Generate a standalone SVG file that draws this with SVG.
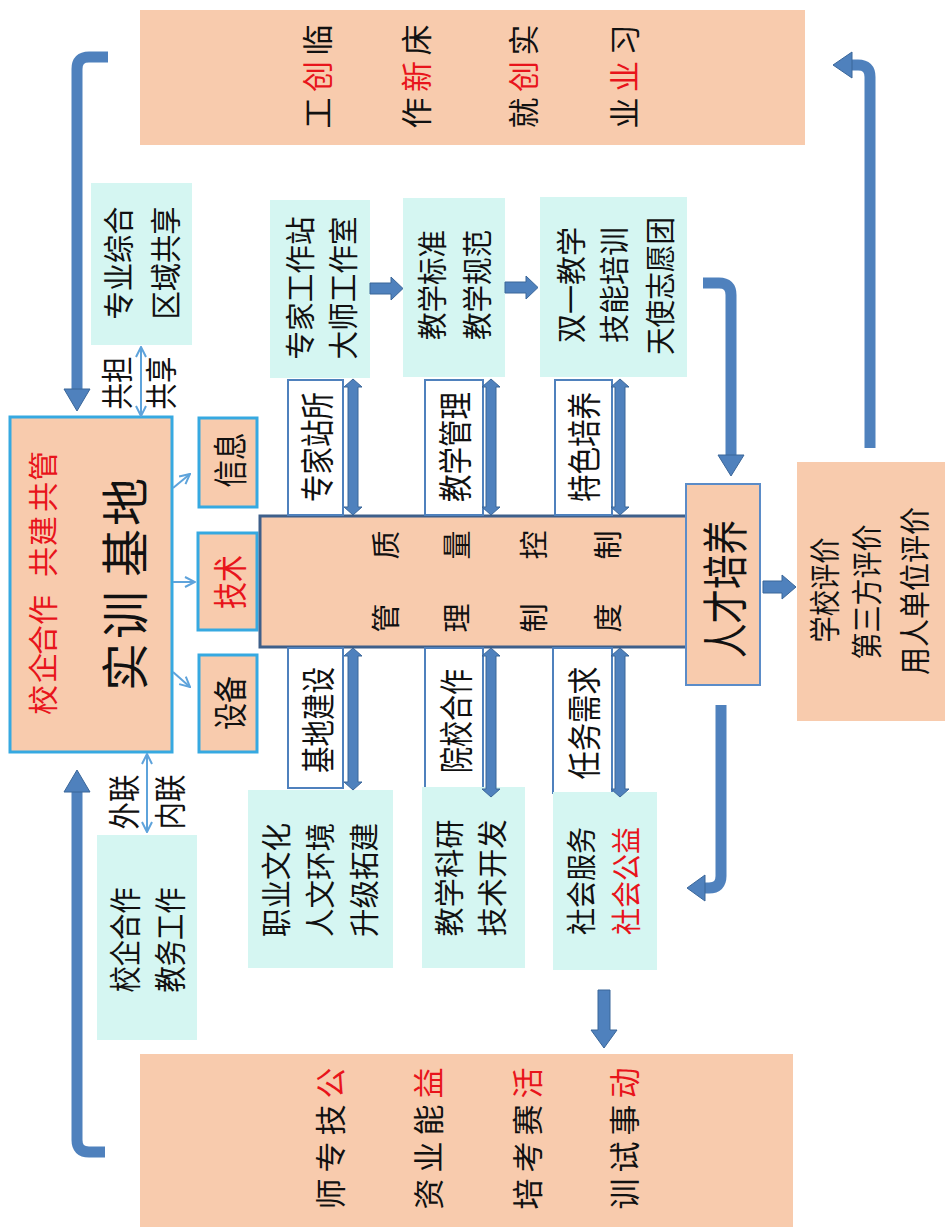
<svg xmlns="http://www.w3.org/2000/svg" width="945" height="1227" viewBox="0 0 945 1227">
<defs>
<style>
.t{font-family:"Noto Sans CJK SC","Noto Sans CJK JP",sans-serif;text-anchor:middle;dominant-baseline:central;fill:#111;}
.r{fill:#E8141B;}
.sal{fill:#F8CBAD;}
.cy{fill:#D5F6F2;}
.lab{fill:#fff;stroke:#4F81BD;stroke-width:2;}
.bl{fill:#4F81BD;stroke:#3A6699;stroke-width:1;}
.sh{fill:none;stroke:#4F81BD;stroke-width:11;}
.thin{fill:none;stroke:#5EA3DB;stroke-width:2;}
</style>
<marker id="ah" viewBox="0 0 12 12" refX="11" refY="6" markerWidth="12" markerHeight="12" markerUnits="userSpaceOnUse" orient="auto-start-reverse">
<path d="M1,1 L11,6 L1,11" fill="none" stroke="#5EA3DB" stroke-width="2"/>
</marker>
</defs>
<rect width="945" height="1227" fill="#fff"/>

<!-- Top outcome box -->
<g id="top-box">
<rect class="sal" x="140" y="10" width="665" height="135"/>
<text class="t" font-size="31" transform="translate(315,76.5) rotate(-90)"><tspan x="-36.5">工</tspan><tspan class="r" x="0">创</tspan><tspan x="36.5">临</tspan></text>
<text class="t" font-size="31" transform="translate(414,76.5) rotate(-90)"><tspan x="-36.5">作</tspan><tspan class="r" x="0">新</tspan><tspan x="36.5">床</tspan></text>
<text class="t" font-size="31" transform="translate(521,76.5) rotate(-90)"><tspan x="-36.5">就</tspan><tspan class="r" x="0">创</tspan><tspan x="36.5">实</tspan></text>
<text class="t" font-size="31" transform="translate(622,76.5) rotate(-90)"><tspan x="-36.5">业</tspan><tspan class="r" x="0">业</tspan><tspan x="36.5">习</tspan></text>
</g>

<!-- Bottom outcome box -->
<g id="bottom-box">
<rect class="sal" x="140" y="1054" width="653" height="173"/>
<text class="t" font-size="31" transform="translate(328,1138) rotate(-90)"><tspan x="-56">师</tspan><tspan x="-19">专</tspan><tspan x="18">技</tspan><tspan class="r" x="55">公</tspan></text>
<text class="t" font-size="31" transform="translate(426,1138) rotate(-90)"><tspan x="-56">资</tspan><tspan x="-19">业</tspan><tspan x="18">能</tspan><tspan class="r" x="55">益</tspan></text>
<text class="t" font-size="31" transform="translate(525,1138) rotate(-90)"><tspan x="-56">培</tspan><tspan x="-19">考</tspan><tspan x="18">赛</tspan><tspan class="r" x="55">活</tspan></text>
<text class="t" font-size="31" transform="translate(622,1138) rotate(-90)"><tspan x="-56">训</tspan><tspan x="-19">试</tspan><tspan x="18">事</tspan><tspan class="r" x="55">动</tspan></text>
</g>

<!-- Training base -->
<g id="base">
<rect class="sal" x="10" y="417" width="162" height="335" stroke="#36A9E1" stroke-width="3"/>
<text class="t r" font-size="30" transform="translate(41,586) rotate(-90)"><tspan x="-114">校</tspan><tspan x="-82">企</tspan><tspan x="-54">合</tspan><tspan x="-24">作</tspan><tspan x="24">共</tspan><tspan x="55">建</tspan><tspan x="89">共</tspan><tspan x="120">管</tspan></text>
<text class="t" font-size="48" transform="translate(122,584) rotate(-90)"><tspan x="-83">实</tspan><tspan x="-31">训</tspan><tspan x="31">基</tspan><tspan x="82">地</tspan></text>
</g>

<g id="info">
<rect class="sal" x="199" y="418" width="58" height="89" stroke="#36A9E1" stroke-width="3"/>
<text class="t" font-size="34" textLength="55" lengthAdjust="spacingAndGlyphs" transform="translate(228,460) rotate(-90)">信息</text>
</g>
<g id="tech">
<rect class="sal" x="198" y="533" width="59" height="97" stroke="#36A9E1" stroke-width="3"/>
<text class="t r" font-size="34" textLength="54" lengthAdjust="spacingAndGlyphs" transform="translate(228,582) rotate(-90)">技术</text>
</g>
<g id="equip">
<rect class="sal" x="199" y="655" width="58" height="97" stroke="#36A9E1" stroke-width="3"/>
<text class="t" font-size="34" textLength="54" lengthAdjust="spacingAndGlyphs" transform="translate(228,703) rotate(-90)">设备</text>
</g>

<g id="share-box">
<rect class="cy" x="91" y="183" width="101" height="162"/>
<text class="t" font-size="31" textLength="113" lengthAdjust="spacingAndGlyphs" transform="translate(116,263) rotate(-90)">专业综合</text>
<text class="t" font-size="31" textLength="113" lengthAdjust="spacingAndGlyphs" transform="translate(163,263) rotate(-90)">区域共享</text>
</g>
<g id="share-label">
<text class="t" font-size="32" textLength="53" lengthAdjust="spacingAndGlyphs" transform="translate(115,383) rotate(-90)">共担</text>
<text class="t" font-size="32" textLength="53" lengthAdjust="spacingAndGlyphs" transform="translate(159,383) rotate(-90)">共享</text>
</g>
<g id="link-label">
<text class="t" font-size="32" textLength="55" lengthAdjust="spacingAndGlyphs" transform="translate(122,802) rotate(-90)">外联</text>
<text class="t" font-size="32" textLength="55" lengthAdjust="spacingAndGlyphs" transform="translate(168,802) rotate(-90)">内联</text>
</g>
<g id="coop-box">
<rect class="cy" x="97" y="835" width="100" height="205"/>
<text class="t" font-size="32" textLength="105" lengthAdjust="spacingAndGlyphs" transform="translate(123,940) rotate(-90)">校企合作</text>
<text class="t" font-size="32" textLength="105" lengthAdjust="spacingAndGlyphs" transform="translate(168,940) rotate(-90)">教务工作</text>
</g>

<!-- Quality control -->
<g id="quality">
<rect class="sal" x="260" y="516" width="427" height="131" stroke="#3E5F8A" stroke-width="3"/>
<text class="t" font-size="29" transform="translate(384,581) rotate(-90)"><tspan x="-37">管</tspan><tspan x="36">质</tspan></text>
<text class="t" font-size="29" transform="translate(455,581) rotate(-90)"><tspan x="-37">理</tspan><tspan x="36">量</tspan></text>
<text class="t" font-size="29" transform="translate(532,581) rotate(-90)"><tspan x="-37">制</tspan><tspan x="36">控</tspan></text>
<text class="t" font-size="29" transform="translate(606,581) rotate(-90)"><tspan x="-37">度</tspan><tspan x="36">制</tspan></text>
</g>

<g id="talent">
<rect class="sal" x="686" y="484" width="74" height="201" stroke="#5B8CC8" stroke-width="2"/>
<text class="t" font-size="46" textLength="138" lengthAdjust="spacingAndGlyphs" transform="translate(722,589) rotate(-90)">人才培养</text>
</g>

<g id="evaluation">
<rect class="sal" x="797" y="462" width="160" height="259"/>
<text class="t" font-size="31" textLength="105" lengthAdjust="spacingAndGlyphs" transform="translate(822,590) rotate(-90)">学校评价</text>
<text class="t" font-size="31" textLength="135" lengthAdjust="spacingAndGlyphs" transform="translate(864,592) rotate(-90)">第三方评价</text>
<text class="t" font-size="31" textLength="168" lengthAdjust="spacingAndGlyphs" transform="translate(912,591) rotate(-90)">用人单位评价</text>
</g>

<!-- Column 1 -->
<g id="expert-box">
<rect class="cy" x="270" y="200" width="100" height="178"/>
<text class="t" font-size="30" textLength="143" lengthAdjust="spacingAndGlyphs" transform="translate(298,288) rotate(-90)">专家工作站</text>
<text class="t" font-size="30" textLength="143" lengthAdjust="spacingAndGlyphs" transform="translate(341,288) rotate(-90)">大师工作室</text>
</g>
<g id="expert-label">
<rect class="lab" x="288" y="380" width="55" height="135"/>
<text class="t" font-size="34" textLength="110" lengthAdjust="spacingAndGlyphs" transform="translate(315,447) rotate(-90)">专家站所</text>
</g>
<g id="build-label">
<rect class="lab" x="288" y="648" width="55" height="140"/>
<text class="t" font-size="34" textLength="106" lengthAdjust="spacingAndGlyphs" transform="translate(316,720) rotate(-90)">基地建设</text>
</g>
<g id="culture-box">
<rect class="cy" x="248" y="790" width="145" height="178"/>
<text class="t" font-size="30" textLength="114" lengthAdjust="spacingAndGlyphs" transform="translate(274,880) rotate(-90)">职业文化</text>
<text class="t" font-size="30" textLength="114" lengthAdjust="spacingAndGlyphs" transform="translate(318,880) rotate(-90)">人文环境</text>
<text class="t" font-size="30" textLength="114" lengthAdjust="spacingAndGlyphs" transform="translate(362,880) rotate(-90)">升级拓建</text>
</g>

<!-- Column 2 -->
<g id="standard-box">
<rect class="cy" x="403" y="198" width="102" height="179"/>
<text class="t" font-size="30" textLength="110" lengthAdjust="spacingAndGlyphs" transform="translate(430,285) rotate(-90)">教学标准</text>
<text class="t" font-size="30" textLength="110" lengthAdjust="spacingAndGlyphs" transform="translate(475,285) rotate(-90)">教学规范</text>
</g>
<g id="manage-label">
<rect class="lab" x="425" y="380" width="58" height="135"/>
<text class="t" font-size="34" textLength="110" lengthAdjust="spacingAndGlyphs" transform="translate(453,447) rotate(-90)">教学管理</text>
</g>
<g id="college-label">
<rect class="lab" x="425" y="648" width="58" height="147"/>
<text class="t" font-size="34" textLength="104" lengthAdjust="spacingAndGlyphs" transform="translate(454,721) rotate(-90)">院校合作</text>
</g>
<g id="research-box">
<rect class="cy" x="422" y="787" width="103" height="181"/>
<text class="t" font-size="30" textLength="117" lengthAdjust="spacingAndGlyphs" transform="translate(447,878) rotate(-90)">教学科研</text>
<text class="t" font-size="30" textLength="117" lengthAdjust="spacingAndGlyphs" transform="translate(490,878) rotate(-90)">技术开发</text>
</g>

<!-- Column 3 -->
<g id="skill-box">
<rect class="cy" x="540" y="197" width="147" height="180"/>
<text class="t" font-size="30" textLength="116" lengthAdjust="spacingAndGlyphs" transform="translate(569,285) rotate(-90)">双一教学</text>
<text class="t" font-size="30" textLength="116" lengthAdjust="spacingAndGlyphs" transform="translate(612,285) rotate(-90)">技能培训</text>
<text class="t" font-size="30" textLength="138" lengthAdjust="spacingAndGlyphs" transform="translate(658,286) rotate(-90)">天使志愿团</text>
</g>
<g id="feature-label">
<rect class="lab" x="555" y="380" width="57" height="135"/>
<text class="t" font-size="34" textLength="110" lengthAdjust="spacingAndGlyphs" transform="translate(582,447) rotate(-90)">特色培养</text>
</g>
<g id="task-label">
<rect class="lab" x="553" y="648" width="59" height="145"/>
<text class="t" font-size="34" textLength="113" lengthAdjust="spacingAndGlyphs" transform="translate(582,723) rotate(-90)">任务需求</text>
</g>
<g id="service-box">
<rect class="cy" x="553" y="792" width="104" height="178"/>
<text class="t" font-size="30" textLength="108" lengthAdjust="spacingAndGlyphs" transform="translate(579,881) rotate(-90)">社会服务</text>
<text class="t r" font-size="30" textLength="108" lengthAdjust="spacingAndGlyphs" transform="translate(624,881) rotate(-90)">社会公益</text>
</g>

<!-- Connectors -->
<g id="connectors">
<line class="thin" x1="173" y1="488" x2="190" y2="474" marker-end="url(#ah)"/>
<line class="thin" x1="173" y1="582" x2="195" y2="582" marker-end="url(#ah)"/>
<line class="thin" x1="173" y1="672" x2="190" y2="687" marker-end="url(#ah)"/>
<line class="thin" x1="141" y1="347" x2="141" y2="416" marker-start="url(#ah)" marker-end="url(#ah)"/>
<line class="thin" x1="147" y1="754" x2="147" y2="832" marker-start="url(#ah)" marker-end="url(#ah)"/>

<path class="sh" d="M108,57 H89 Q77,57 77,69 V390"/>
<polygon class="bl" points="64,389 90,389 77,411"/>
<path class="sh" d="M77,791 V1140 Q77,1152 89,1152 H105"/>
<polygon class="bl" points="64,792 90,792 77,770"/>
<path class="sh" d="M870,448 V77 Q870,65 858,65 H851"/>
<polygon class="bl" points="852,52 852,78 833,65"/>
<path class="sh" d="M703,283 H719 Q731,283 731,295 V456"/>
<polygon class="bl" points="718,455 744,455 731,476"/>
<path class="sh" d="M721,705 V876 Q721,888 709,888 H704"/>
<polygon class="bl" points="705,875 705,901 687,888"/>
<polygon class="bl" points="598,990 610,990 610,1030 617,1030 604,1048 591,1030 598,1030"/>

<polygon class="bl" points="370,283 391,283 391,277 403,288.5 391,300 391,294 370,294"/>
<polygon class="bl" points="505,282 526,282 526,276 538,287.5 526,299 526,293 505,293"/>
<polygon class="bl" points="763,581 782,581 782,575 796,587 782,599 782,593 763,593"/>

<polygon class="bl" points="353,379 362,387 358,387 358,507 362,507 353,515 344,507 348,507 348,387 344,387"/>
<polygon class="bl" points="353,648 362,656 358,656 358,782 362,782 353,790 344,782 348,782 348,656 344,656"/>
<polygon class="bl" points="491,379 500,387 496,387 496,507 500,507 491,515 482,507 486,507 486,387 482,387"/>
<polygon class="bl" points="491,648 500,656 496,656 496,789 500,789 491,797 482,789 486,789 486,656 482,656"/>
<polygon class="bl" points="620,379 629,387 625,387 625,507 629,507 620,515 611,507 615,507 615,387 611,387"/>
<polygon class="bl" points="620,648 629,656 625,656 625,789 629,789 620,797 611,789 615,789 615,656 611,656"/>
</g>
</svg>
